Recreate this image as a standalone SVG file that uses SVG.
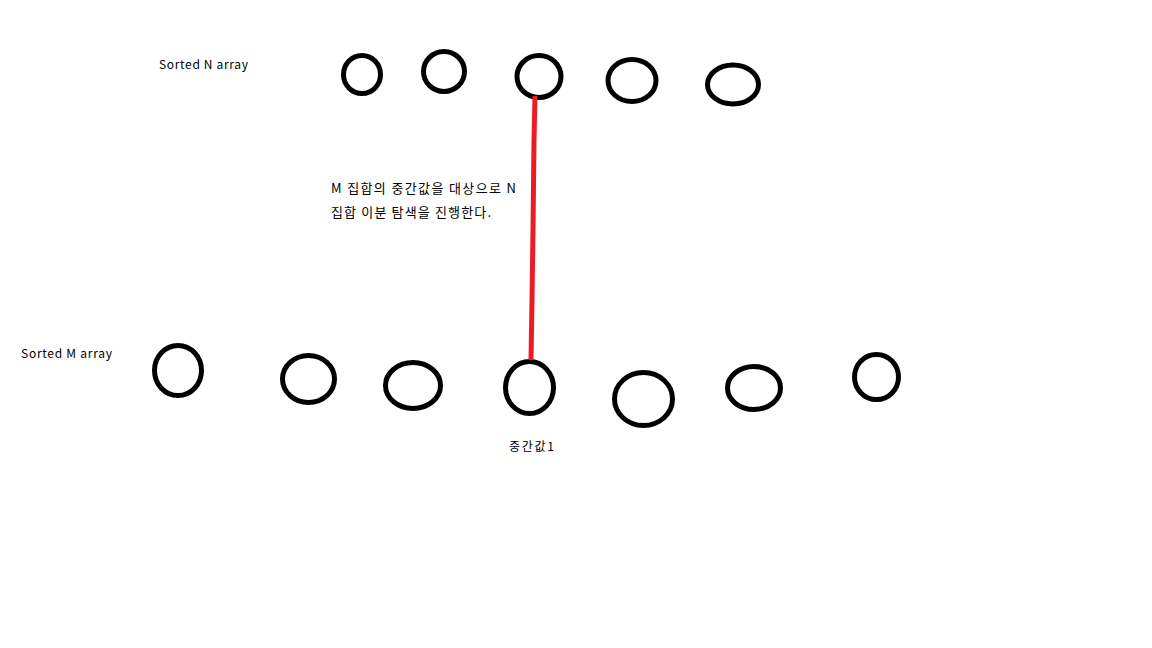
<svg xmlns="http://www.w3.org/2000/svg" width="1152" height="648" viewBox="0 0 1152 648">
<style>
.n{fill:none;stroke:#000;stroke-width:5}
.t{font-family:"Noto Sans CJK KR","Liberation Sans",sans-serif;font-size:12px;fill:#000}
.k{font-size:13px}
.c{stroke:#ed1c24;stroke-width:5;fill:none;stroke-linecap:butt}
</style>
<rect width="1152" height="648" fill="#fff"/>
<text class="t" x="159" y="69" textLength="89" lengthAdjust="spacing">Sorted N array</text>
<text class="t" x="21" y="358" textLength="91" lengthAdjust="spacing">Sorted M array</text>
<g id="n1"><ellipse class="n" cx="362" cy="74.5" rx="18.5" ry="19"/></g>
<g id="n2"><ellipse class="n" cx="444" cy="71.5" rx="20.5" ry="20"/></g>
<g id="n3"><ellipse class="n" cx="539" cy="76.5" rx="22" ry="21"/></g>
<g id="n4"><ellipse class="n" cx="632" cy="80.5" rx="24" ry="21"/></g>
<g id="n5"><ellipse class="n" cx="733" cy="84.5" rx="25.5" ry="19.5"/></g>
<g id="m1"><ellipse class="n" cx="178" cy="370.5" rx="23.5" ry="25"/></g>
<g id="m2"><ellipse class="n" cx="308.5" cy="379" rx="26" ry="23.5"/></g>
<g id="m3"><ellipse class="n" cx="413" cy="385.5" rx="27.5" ry="23"/></g>
<g id="m4"><ellipse class="n" cx="529.5" cy="387.5" rx="24" ry="26"/>
<text class="t" x="509" y="451" textLength="45" lengthAdjust="spacing">중간값1</text></g>
<g id="m5"><ellipse class="n" cx="643.5" cy="399" rx="29" ry="26.5"/></g>
<g id="m6"><ellipse class="n" cx="754" cy="388" rx="26.5" ry="21.5"/></g>
<g id="m7"><ellipse class="n" cx="876.5" cy="377" rx="22" ry="22.5"/></g>
<g id="connectors">
<path class="c" d="M535,96 L534,140 L533,230 L532,300 L531,360"/>
</g>
<g id="label">
<text class="t k" x="331" y="193" textLength="185" lengthAdjust="spacing">M 집합의 중간값을 대상으로 N</text>
<text class="t k" x="331" y="217" textLength="160" lengthAdjust="spacing">집합 이분 탐색을 진행한다.</text>
</g>
</svg>
